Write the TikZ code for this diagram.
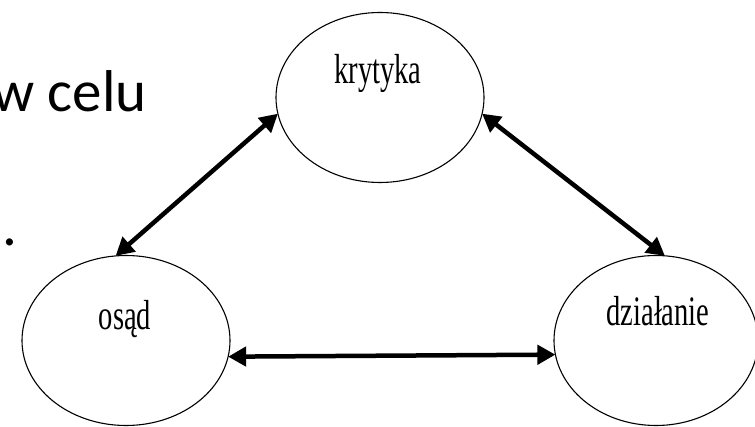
\documentclass[tikz,border=0pt]{standalone}
\usepackage{fontspec}
\usepackage{graphicx}
\usetikzlibrary{shapes.geometric,arrows.meta}
\newfontfamily\serifc{Liberation Serif}
\newfontfamily\calib{Carlito}
\tikzset{
  oval/.style={draw=black, line width=1.1pt, ellipse, inner sep=0pt, outer sep=0pt, minimum width=208pt, minimum height=170pt},
  lbl/.style={anchor=base, inner sep=0pt, font=\serifc\fontsize{42}{42}\selectfont},
  biarrow/.style={line width=4.5pt, {Triangle[length=18pt,width=19pt]}-{Triangle[length=18pt,width=19pt]}},
  slide/.style={inner sep=0pt, font=\calib\fontsize{59}{70}\selectfont}
}
\begin{document}
\begin{tikzpicture}[x=1pt,y=-1pt]
\useasboundingbox (0,0) rectangle (755,427);
\clip (0,0) rectangle (755,427);
\node[slide, anchor=base east] (t1) at (147,112) {w celu};
\node[slide, anchor=base] (t2) at (10,246) {.};
\node[oval] (k) at (380,97.5) {};
\node[oval] (o) at (126,340.5) {};
\node[oval, minimum width=204pt] (d) at (656,340.5) {};
\node[lbl] (kt) at (378,84) {\scalebox{0.68}[1]{krytyka}};
\node[lbl] (ot) at (125,330) {\scalebox{0.68}[1]{osąd}};
\node[lbl] (dt) at (658,326) {\scalebox{0.68}[1]{działanie}};
\draw[biarrow] (k.189.2) -- (o.97.6);
\draw[biarrow] (k.351) -- (d.84.6);
\draw[biarrow] (o.351.5) -- (d.188.7);
\end{tikzpicture}
\end{document}
